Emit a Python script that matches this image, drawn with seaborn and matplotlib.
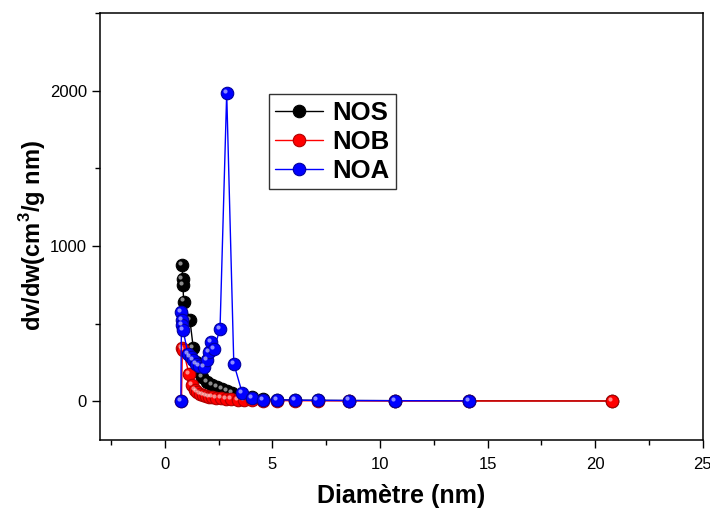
import numpy as np
import pandas as pd
import matplotlib
matplotlib.use("Agg")
import matplotlib.pyplot as plt
from matplotlib.ticker import MultipleLocator
import seaborn as sns

# Pore size distributions (BJH), dv/dw vs pore diameter
nos_d = [0.82, 0.83, 0.85, 0.88, 1.17, 1.33, 1.45, 1.58, 1.75, 1.98, 2.21, 2.44,
         2.67, 2.90, 3.14, 3.52, 4.06, 4.57, 5.22, 6.05, 7.10, 8.55, 10.70, 14.15, 20.80]
nos_v = [880, 785, 746, 642, 525, 340, 250, 190, 156, 124, 103, 88,
         75, 64, 52, 40, 28, 14, 9, 6, 5, 4, 3, 2, 1]

nob_d = [0.78, 0.82, 0.86, 1.13, 1.28, 1.40, 1.52, 1.64, 1.76, 1.90, 2.06, 2.22,
         2.40, 2.60, 2.83, 3.10, 3.40, 3.70, 4.06, 4.57, 5.22, 6.05, 7.10, 8.55,
         10.70, 14.15, 20.80]
nob_v = [0, 345, 330, 174, 103, 72, 57, 48, 40, 34, 29, 25,
         21, 18, 15, 12, 10, 8, 6, 4, 3, 3, 2, 2,
         1, 1, 1]

noa_d = [0.75, 0.78, 0.80, 0.82, 0.85, 1.08, 1.20, 1.33, 1.45, 1.60, 1.82, 1.98,
         2.08, 2.16, 2.29, 2.57, 2.88, 3.21, 3.60, 4.06, 4.57, 5.22, 6.05, 7.10,
         8.55, 10.70, 14.15]
noa_v = [0, 574, 521, 489, 460, 306, 285, 264, 240, 225, 221, 264,
         317, 381, 335, 465, 1985, 242, 53, 17, 10, 8, 6, 5,
         4, 3, 2]

series = [
    ("NOS", nos_d, nos_v, "#000000", "#000000"),
    ("NOB", nob_d, nob_v, "#ff0000", "#b00000"),
    ("NOA", noa_d, noa_v, "#0000ff", "#0000a0"),
]

sns.set_theme(style="ticks")
plt.rcParams["font.family"] = ["Liberation Sans", "DejaVu Sans"]
plt.rcParams["mathtext.fontset"] = "custom"
plt.rcParams["mathtext.bf"] = "Liberation Sans:bold"
plt.rcParams["mathtext.rm"] = "Liberation Sans"
plt.rcParams["text.color"] = "black"
plt.rcParams["axes.labelcolor"] = "black"
plt.rcParams["xtick.color"] = "black"
plt.rcParams["ytick.color"] = "black"

fig = plt.figure(figsize=(7.10, 5.08), dpi=100)
ax = fig.add_axes([0.141, 0.134, 0.849, 0.840])

for name, d, v, col, edge in series:
    df = pd.DataFrame({"d": d, "v": v})
    sns.lineplot(data=df, x="d", y="v", ax=ax, sort=False, estimator=None,
                 color=col, linewidth=1.0, marker="o", markersize=9,
                 markerfacecolor=col, markeredgecolor=edge, markeredgewidth=0.8,
                 label=name)
    # light highlight on each ball marker
    ax.plot(d, v, linestyle="none", marker="o", markersize=3,
            markerfacecolor="white", markeredgecolor="none", alpha=0.55,
            transform=ax.transData + matplotlib.transforms.ScaledTranslation(
                -1.5 / 72, 1.5 / 72, fig.dpi_scale_trans))

ax.set_xlim(-3, 25)
ax.set_ylim(-250, 2500)
ax.xaxis.set_major_locator(MultipleLocator(5))
ax.xaxis.set_minor_locator(MultipleLocator(2.5))
ax.yaxis.set_major_locator(MultipleLocator(1000))
ax.yaxis.set_minor_locator(MultipleLocator(500))
ax.tick_params(axis="both", which="major", direction="out", length=6, width=1,
               labelsize=12, colors="black", top=False, right=False)
ax.tick_params(axis="x", which="major", pad=6)
ax.tick_params(axis="both", which="minor", direction="out", length=3.5, width=1,
               top=False, right=False)

for s in ax.spines.values():
    s.set_visible(True)
    s.set_color("black")
    s.set_linewidth(1.1)

ax.set_xlabel("Diamètre (nm)", fontsize=18, fontweight="bold", labelpad=9,
              color="black")
ax.set_ylabel(r"dv/dw(cm$^{\mathbf{3}}$/g nm)", fontsize=17, fontweight="bold",
              labelpad=8, color="black")
ax.yaxis.set_label_coords(-0.087, 0.48)

handles, labels = ax.get_legend_handles_labels()
leg = ax.legend(handles[:3], labels[:3], loc="upper left",
                bbox_to_anchor=(0.28, 0.81), frameon=True, fancybox=False,
                edgecolor="black", handlelength=1.85, handletextpad=0.35,
                borderpad=0.25, labelspacing=0.2, borderaxespad=0,
                prop={"weight": "bold", "size": 18.5})
leg.get_frame().set_linewidth(1.0)
for t in leg.get_texts():
    t.set_color("black")

fig.savefig("out.png", dpi=100)
